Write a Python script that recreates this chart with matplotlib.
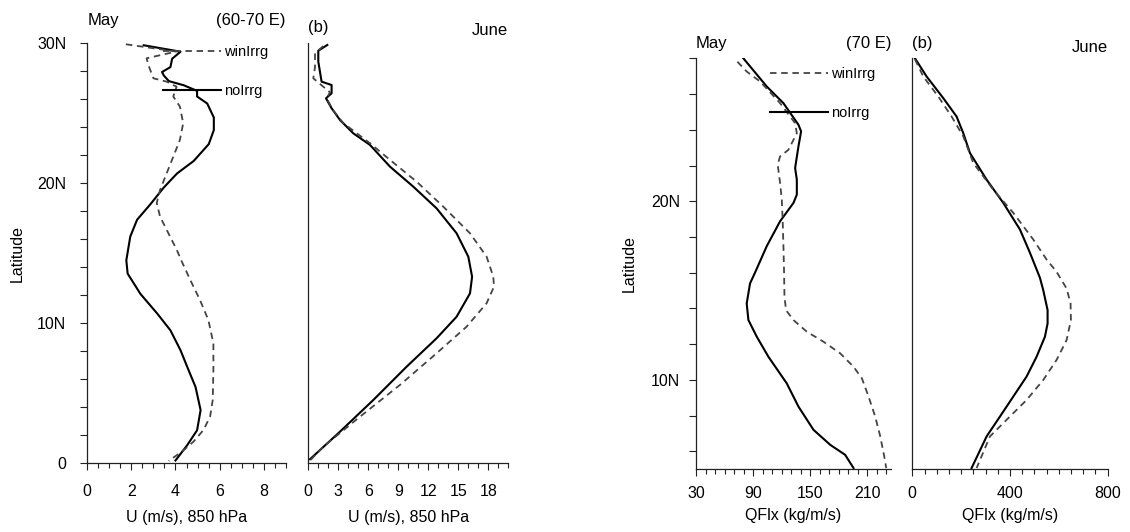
import numpy as np
import matplotlib
matplotlib.use("Agg")
import matplotlib.pyplot as plt
from matplotlib.ticker import MultipleLocator, FixedLocator, FixedFormatter
from matplotlib.lines import Line2D

plt.rcParams['font.family'] = ['Liberation Sans', 'DejaVu Sans']

# ---------------- data ----------------
# Panel a: May U (m/s) 850 hPa, 60-70E
may_u_no_lat = [29.86, 29.4, 28.9, 28.3, 27.95, 27.7, 27.3, 27.0, 26.6, 26.2, 25.7, 24.7, 23.8,
                22.8, 21.6, 20.7, 19.7, 18.5, 17.4, 16.2, 14.5, 13.55, 12.1, 10.7, 9.5, 8.07,
                6.9, 5.45, 3.8, 2.36, 1.29, 0.2]
may_u_no = [2.56, 4.23, 3.85, 3.77, 3.39, 3.47, 3.7, 4.38, 4.98, 4.98, 5.44, 5.74, 5.74,
            5.51, 4.83, 4.07, 3.47, 2.86, 2.26, 1.95, 1.77, 1.83, 2.41, 3.17, 3.77, 4.23,
            4.53, 4.91, 5.14, 4.98, 4.53, 4.0]
may_u_win_lat = [29.93, 29.41, 28.93, 28.45, 27.5, 27.26, 26.9, 26.2, 25.48, 24.29, 23.1, 21.9,
                 20.71, 19.52, 18.6, 17.62, 16.43, 15.24, 14.4, 13.1, 11.67, 10.24, 8.57, 6.67,
                 4.52, 3.33, 2.38, 1.55, 0.83, 0.17]
may_u_win = [1.75, 4.03, 2.69, 2.77, 3.0, 3.6, 4.05, 3.9, 4.2, 4.35, 4.2, 3.9,
             3.6, 3.3, 3.15, 3.3, 3.68, 4.06, 4.29, 4.67, 5.11, 5.49, 5.72, 5.72,
             5.69, 5.57, 5.27, 4.82, 4.29, 3.69]

# Panel b: June U
jun_u_no_lat = [29.88, 29.47, 28.69, 27.26, 27.02, 26.43, 26.07, 25.36, 24.52, 23.57, 22.74,
                21.19, 19.76, 18.21, 16.43, 14.76, 13.33, 12.14, 10.47, 8.93, 6.9, 4.52, 2.26, 0.29]
jun_u_no = [1.9, 1.0, 1.0, 1.33, 2.33, 2.33, 1.77, 2.33, 3.17, 4.5, 6.17,
            8.17, 10.5, 12.83, 14.83, 16.0, 16.38, 16.17, 14.83, 12.83, 9.83, 6.5, 3.17, 0.17]
jun_u_win_lat = [29.8, 29.3, 28.3, 27.5, 26.9, 26.5, 26.07, 25.2, 24.3, 22.86, 21.67, 20.12,
                 18.33, 16.43, 14.76, 13.33, 12.62, 11.43, 9.76, 7.86, 5.6, 3.33, 1.19, 0.24]
jun_u_win = [1.5, 0.67, 0.67, 0.5, 1.5, 2.17, 1.83, 2.5, 3.5, 6.17, 8.17, 10.83,
             13.5, 16.17, 17.83, 18.5, 18.57, 17.83, 15.83, 12.83, 9.17, 5.17, 1.5, 0.23]

# Panel c: May QFlx (kg/m/s), 70E
may_q_no_lat = [28.0, 26.42, 25.49, 24.28, 23.91, 23.07, 21.86, 21.21, 20.37, 19.91, 18.88,
                17.49, 16.0, 15.4, 14.28, 13.35, 12.42, 11.3, 9.81, 8.51, 7.21, 6.37, 5.81, 5.07]
may_q_no = [79.8, 104.4, 121.9, 137.7, 140.5, 137.7, 134.2, 136.0, 136.0, 132.5, 118.4,
            104.4, 92.0, 86.8, 83.3, 85.1, 93.9, 106.1, 125.4, 137.7, 153.5, 171.1, 186.8, 195.6]
may_q_win_lat = [27.81, 27.26, 26.7, 25.49, 24.37, 23.81, 22.88, 22.51, 22.05, 21.02, 20.09,
                 18.79, 17.49, 16.0, 14.65, 13.9, 13.35, 12.7, 12.14, 11.49, 10.74, 10.09,
                 9.07, 7.95, 6.84, 5.72, 5.07]
may_q_win = [73.5, 83.3, 97.4, 118.4, 134.2, 136.0, 127.2, 118.4, 115.9, 118.4, 120.2,
             121.2, 121.9, 122.6, 123.0, 124.7, 132.5, 146.5, 164.0, 181.6, 195.6, 204.4,
             211.4, 218.4, 223.7, 227.9, 230.0]

# Panel d: June QFlx
jun_q_no_lat = [28.0, 26.98, 25.77, 24.74, 23.81, 22.7, 21.21, 19.91, 18.42, 17.12, 15.72,
                15.02, 13.91, 13.16, 12.42, 11.3, 10.19, 9.07, 7.95, 6.84, 5.07]
jun_q_no = [10.9, 58.7, 126.9, 181.4, 208.7, 236.0, 304.2, 372.4, 440.7, 481.6, 522.5,
            536.2, 553.9, 553.9, 543.0, 508.9, 467.9, 413.4, 358.8, 304.2, 242.8]
jun_q_win_lat = [27.94, 26.98, 25.86, 24.74, 23.63, 22.14, 20.65, 19.35, 17.86, 16.74, 16.05,
                 15.12, 14.28, 13.35, 12.23, 11.12, 10.0, 8.88, 7.77, 6.84, 5.07]
jun_q_win = [10.9, 45.0, 106.4, 161.0, 208.7, 249.7, 331.5, 413.4, 495.2, 549.8, 590.7,
             631.7, 648.0, 649.4, 631.7, 590.7, 536.2, 468.0, 386.1, 317.9, 263.3]

series_labels = ["winIrrg", "noIrrg"]
lat_ticks_left = [0, 10, 20, 30]
lat_labels_left = ["0", "10N", "20N", "30N"]
lat_ticks_right = [10, 20]
lat_labels_right = ["10N", "20N"]
xlabel_u = "U (m/s), 850 hPa"
xlabel_q = "QFlx (kg/m/s)"

# ---------------- figure ----------------
W, H = 1130, 532
fig = plt.figure(figsize=(W / 100, H / 100), dpi=100)

def px_axes(x0, x1, ytop, ybot):
    return fig.add_axes([x0 / W, 1 - ybot / H, (x1 - x0) / W, (ybot - ytop) / H])

ax1 = px_axes(87.3, 285.7, 43.3, 463.3)
ax2 = px_axes(308.3, 508.3, 43.3, 463.3)
ax3 = px_axes(696.0, 891.0, 58.3, 469.3)
ax4 = px_axes(912.3, 1107.7, 58.3, 469.3)

SOLID = dict(color='black', lw=1.5, solid_joinstyle='round')
DASH = dict(color='#444444', lw=1.3, linestyle=(0, (3.6, 2.6)))
SPC = '#222222'
FS_TICK = 11.5
FS_LAB = 11.5
FS_TITLE = 12
FS_LEG = 10.5

def base_style(ax, ylabels, pad_x, pad_y):
    for s in ['top', 'right']:
        ax.spines[s].set_visible(False)
    for s in ['left', 'bottom']:
        ax.spines[s].set_color(SPC)
        ax.spines[s].set_linewidth(0.9)
    ax.tick_params(axis='x', which='major', direction='out', length=5.2, width=0.8,
                   color=SPC, labelsize=FS_TICK, pad=pad_x)
    ax.tick_params(axis='x', which='minor', direction='out', length=3.6, width=0.8, color=SPC)
    if ylabels:
        ax.tick_params(axis='y', which='major', direction='out', length=5.4, width=0.8,
                       color=SPC, labelsize=FS_TICK, pad=pad_y)
        ax.tick_params(axis='y', which='minor', direction='out', length=5.0, width=0.8, color=SPC)
    else:
        ax.tick_params(axis='y', which='both', left=False, labelleft=False)

def titles(ax, left, right, off_l, off_r):
    ax.annotate(left, xy=(0, 1), xycoords='axes fraction', xytext=(0, off_l),
                textcoords='offset points', ha='left', va='baseline', fontsize=FS_TITLE)
    ax.annotate(right, xy=(1, 1), xycoords='axes fraction', xytext=(0, off_r),
                textcoords='offset points', ha='right', va='baseline', fontsize=FS_TITLE)

def xlab(ax, text, off):
    ax.annotate(text, xy=(0.5, 0), xycoords='axes fraction', xytext=(0, -off),
                textcoords='offset points', ha='center', va='baseline', fontsize=FS_LAB)

def ylab(ax, off):
    ax.annotate("Latitude", xy=(0, 0.5), xycoords='axes fraction', xytext=(-off, 0),
                textcoords='offset points', ha='center', va='center', rotation=90,
                fontsize=FS_LAB)

def legend(ax, x, y):
    handles = [Line2D([], [], **DASH), Line2D([], [], **SOLID)]
    ax.legend(handles, series_labels, loc='upper left', bbox_to_anchor=(x, y),
              frameon=False, fontsize=FS_LEG, handlelength=4.0, handletextpad=0.2,
              labelspacing=1.72, borderpad=0, borderaxespad=0)

# Panel a
ax1.plot(may_u_no, may_u_no_lat, **SOLID)
ax1.plot(may_u_win, may_u_win_lat, **DASH)
ax1.set_xlim(0, 9)
ax1.set_ylim(0, 30)
ax1.xaxis.set_major_locator(MultipleLocator(2))
ax1.xaxis.set_minor_locator(MultipleLocator(0.5))
ax1.yaxis.set_major_locator(FixedLocator(lat_ticks_left))
ax1.yaxis.set_major_formatter(FixedFormatter(lat_labels_left))
ax1.yaxis.set_minor_locator(MultipleLocator(2))
base_style(ax1, True, 9.5, 9.8)
titles(ax1, "May", "(60-70 E)", 13.2, 13.2)
xlab(ax1, xlabel_u, 42)
ylab(ax1, 50.6)
legend(ax1, 0.3815, 0.995)

# Panel b
ax2.plot(jun_u_no, jun_u_no_lat, **SOLID)
ax2.plot(jun_u_win, jun_u_win_lat, **DASH)
ax2.set_xlim(0, 20)
ax2.set_ylim(0, 30)
ax2.xaxis.set_major_locator(FixedLocator([0, 3, 6, 9, 12, 15, 18]))
ax2.xaxis.set_minor_locator(MultipleLocator(1))
base_style(ax2, False, 9.5, 9.8)
titles(ax2, "(b)", "June", 8.4, 6.0)
xlab(ax2, xlabel_u, 42)

# Panel c
ax3.plot(may_q_no, may_q_no_lat, **SOLID)
ax3.plot(may_q_win, may_q_win_lat, **DASH)
ax3.set_xlim(30, 235)
ax3.set_ylim(5, 28)
ax3.xaxis.set_major_locator(FixedLocator([30, 90, 150, 210]))
ax3.xaxis.set_minor_locator(MultipleLocator(10))
ax3.yaxis.set_major_locator(FixedLocator(lat_ticks_right))
ax3.yaxis.set_major_formatter(FixedFormatter(lat_labels_right))
ax3.yaxis.set_minor_locator(MultipleLocator(2))
base_style(ax3, True, 6.5, 6.0)
titles(ax3, "May", "(70 E)", 7.2, 7.2)
xlab(ax3, xlabel_q, 36.5)
ylab(ax3, 48.2)
legend(ax3, 0.379, 0.979)

# Panel d
ax4.plot(jun_q_no, jun_q_no_lat, **SOLID)
ax4.plot(jun_q_win, jun_q_win_lat, **DASH)
ax4.set_xlim(0, 800)
ax4.set_ylim(5, 28)
ax4.xaxis.set_major_locator(FixedLocator([0, 400, 800]))
ax4.xaxis.set_minor_locator(MultipleLocator(50))
base_style(ax4, False, 6.5, 6.0)
titles(ax4, "(b)", "June", 7.2, 4.8)
xlab(ax4, xlabel_q, 36.5)

fig.savefig("out.png", dpi=100)
